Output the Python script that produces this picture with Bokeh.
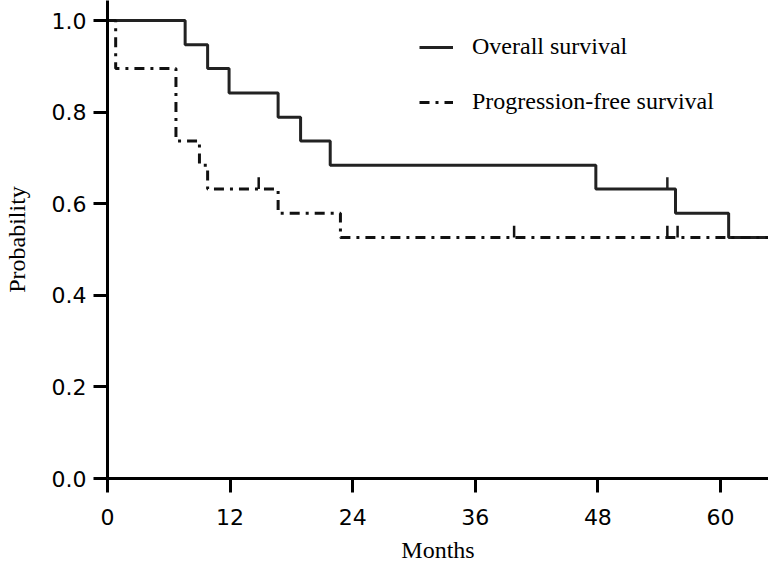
from bokeh.plotting import figure
from bokeh.models import Range1d, FixedTicker, PrintfTickFormatter
from bokeh.embed import file_html
from bokeh.resources import INLINE

# Overall survival (Kaplan-Meier steps)
os_time = [0, 7.6, 9.8, 11.9, 16.7, 18.9, 21.8, 47.8, 55.6, 60.8, 66]
os_surv = [1.0, 0.947, 0.895, 0.842, 0.789, 0.737, 0.684, 0.632, 0.579, 0.526, 0.526]
os_cens_time = [54.8]
os_cens_surv = [0.632]

# Progression-free survival
pfs_time = [0, 0.8, 6.7, 9.0, 9.8, 16.7, 22.8, 66]
pfs_surv = [1.0, 0.895, 0.737, 0.684, 0.632, 0.579, 0.526, 0.526]
pfs_cens_time = [14.8, 39.8, 54.8, 55.8]
pfs_cens_surv = [0.632, 0.526, 0.526, 0.526]

x_ticks = [0, 12, 24, 36, 48, 60]
y_ticks = [0.0, 0.2, 0.4, 0.6, 0.8, 1.0]

CENS_H = 0.026

p = figure(width=768, height=568, output_backend="svg", toolbar_location=None,
           x_range=Range1d(0, 64.7), y_range=Range1d(0, 1.0437),
           min_border_left=106, min_border_right=0, min_border_top=0, min_border_bottom=90)
p.outline_line_color = None
p.xgrid.visible = False
p.ygrid.visible = False

r_os = p.step(os_time, os_surv, mode="after", line_color="#222222", line_width=3,
              legend_label="Overall survival")
r_pfs = p.step(pfs_time, pfs_surv, mode="after", line_color="#111111", line_width=3,
               line_dash="10 6 3 6", legend_label="Progression-free survival")

p.segment(x0=os_cens_time, y0=os_cens_surv, x1=os_cens_time,
          y1=[s + CENS_H for s in os_cens_surv], line_color="#222222", line_width=2.5)
p.segment(x0=pfs_cens_time, y0=pfs_cens_surv, x1=pfs_cens_time,
          y1=[s + CENS_H for s in pfs_cens_surv], line_color="#111111", line_width=2.5)

for ax in (p.xaxis[0], p.yaxis[0]):
    ax.axis_line_width = 3
    ax.axis_line_color = "black"
    ax.major_tick_line_width = 3
    ax.major_tick_line_color = "black"
    ax.major_tick_out = 14
    ax.major_tick_in = 0
    ax.minor_tick_line_color = None
    ax.major_label_text_font = "DejaVu Sans"
    ax.major_label_text_font_size = "22px"
    ax.major_label_text_color = "black"
    ax.axis_label_text_font = "Liberation Serif"
    ax.axis_label_text_font_size = "24px"
    ax.axis_label_text_font_style = "normal"
    ax.axis_label_text_color = "black"

p.xaxis.ticker = FixedTicker(ticks=x_ticks)
p.yaxis.ticker = FixedTicker(ticks=y_ticks)
p.yaxis.formatter = PrintfTickFormatter(format="%.1f")
p.xaxis.axis_label = "Months"
p.yaxis.axis_label = "Probability"
p.xaxis.major_label_standoff = 16
p.yaxis.major_label_standoff = 7
p.xaxis.axis_label_standoff = 9
p.yaxis.axis_label_standoff = 19

leg = p.legend[0]
leg.location = (312, 363)
leg.border_line_color = None
leg.background_fill_alpha = 0
leg.padding = 0
leg.margin = 0
leg.glyph_width = 34
leg.glyph_height = 26
leg.label_standoff = 19
leg.spacing = 28
leg.label_text_font = "Liberation Serif"
leg.label_text_font_size = "24px"
leg.label_text_color = "black"

open("out.html", "w").write(file_html(p, INLINE))
